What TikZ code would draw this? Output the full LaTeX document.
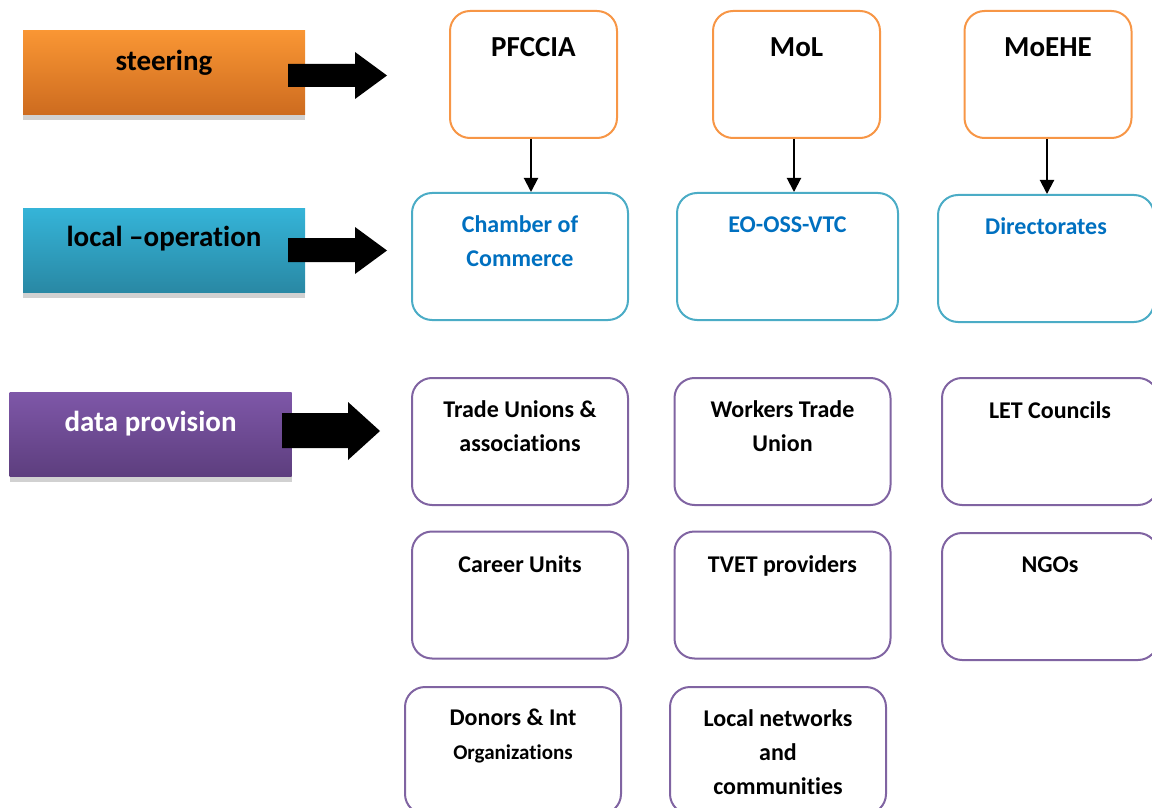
\documentclass[tikz,border=0pt]{standalone}
\usepackage{fontspec}
\setmainfont{Carlito}[Ligatures=NoCommon]
\usetikzlibrary{arrows.meta, shadows, positioning}

\definecolor{steerline}{RGB}{247,150,70}
\definecolor{localline}{RGB}{75,172,198}
\definecolor{dataline}{RGB}{128,100,162}
\definecolor{textblue}{RGB}{0,112,192}
\definecolor{steertop}{RGB}{249,150,52}
\definecolor{steerbot}{RGB}{205,107,31}
\definecolor{localtop}{RGB}{53,180,216}
\definecolor{localbot}{RGB}{41,136,164}
\definecolor{datatop}{RGB}{126,87,168}
\definecolor{databot}{RGB}{93,62,126}

\begin{document}
\begin{tikzpicture}[x=0.5pt, y=-0.5pt,
    orgbox/.style = {draw=#1, line width=1pt, rounded corners=10pt,
        minimum width=108pt, minimum height=63.5pt, inner sep=0pt},
    orgtext/.style = {anchor=north, inner sep=0pt, align=center,
        font=\bfseries\fontsize{12}{17}\selectfont},
    toptext/.style = {anchor=base, inner sep=0pt,
        font=\bfseries\fontsize{14.5}{17}\selectfont},
    levelbox/.style 2 args = {minimum width=141pt, minimum height=42pt,
        inner sep=0pt, top color=#1, bottom color=#2,
        drop shadow={shadow xshift=0pt, shadow yshift=-2.5pt,
            fill=black!18, opacity=1}},
    leveltext/.style = {anchor=base, inner sep=0pt,
        font=\bfseries\fontsize{14.5}{17}\selectfont},
    conn/.style = {line width=1pt, -{Triangle[width=7pt,length=7pt]}},
    blockarrow/.style = {fill=black}]
    \useasboundingbox (0,0) rectangle (1152,808);

    % levels on the left
    \node[levelbox={steertop}{steerbot}] (steer) at (164,73) {};
    \node[leveltext] (steerT) at ([yshift=-20pt]steer.north) {steering};
    \node[levelbox={localtop}{localbot}] (local) at (164,250.5) {};
    \node[leveltext] (localT) at ([yshift=-19pt]local.north) {local –operation};
    \node[levelbox={datatop}{databot}] (data) at (150.5,434.5) {};
    \node[leveltext, text=white] (dataT) at ([yshift=-19.5pt]data.north) {data provision};

    \fill[blockarrow] (288,64) -- (355,64) -- (355,52) -- (387,75.5) -- (355,99) -- (355,87) -- (288,87) -- cycle;
    \fill[blockarrow] (288,238) -- (355,238) -- (355,227) -- (387,250.5) -- (355,274) -- (355,262) -- (288,262) -- cycle;
    \fill[blockarrow] (282,413) -- (348,413) -- (348,402) -- (380,431) -- (348,460) -- (348,448) -- (282,448) -- cycle;

    % steering
    \node[orgbox=steerline, minimum width=83.5pt] (pfccia) at (533.5,74.5) {};
    \node[toptext] (pfcciaT) at ([yshift=-23.5pt]pfccia.north) {PFCCIA};
    \node[orgbox=steerline, minimum width=83.5pt] (mol) at (796.5,74.5) {};
    \node[toptext] (molT) at ([yshift=-23.5pt]mol.north) {MoL};
    \node[orgbox=steerline, minimum width=83.5pt] (moehe) at (1048,74.5) {};
    \node[toptext] (moeheT) at ([yshift=-23.5pt]moehe.north) {MoEHE};

    % local operation
    \node[orgbox=localline] (chamber) at (520,256.5) {};
    \node[orgtext, text=textblue] (chamberT) at ([yshift=-11.5pt]chamber.north) {Chamber of\\Commerce};
    \node[orgbox=localline, minimum width=110.5pt] (eo) at (787.5,256.5) {};
    \node[orgtext, text=textblue] (eoT) at ([yshift=-12.3pt]eo.north) {EO-OSS-VTC};
    \node[orgbox=localline] (direct) at (1046,258.5) {};
    \node[orgtext, text=textblue] (directT) at ([yshift=-11.5pt]direct.north) {Directorates};

    \draw[conn] ([xshift=-1.25pt]pfccia.south) -- ([xshift=-1.25pt]pfccia.south |- chamber.north);
    \draw[conn] ([xshift=-1.25pt]mol.south) -- ([xshift=-1.25pt]mol.south |- eo.north);
    \draw[conn] ([xshift=-0.5pt]moehe.south) -- ([xshift=-0.5pt]moehe.south |- direct.north);

    % data provision
    \node[orgbox=dataline] (trade) at (520,441.5) {};
    \node[orgtext] (tradeT) at ([yshift=-11.5pt]trade.north) {Trade Unions \&\\associations};
    \node[orgbox=dataline] (workers) at (782.5,441.5) {};
    \node[orgtext] (workersT) at ([yshift=-11.5pt]workers.north) {Workers Trade\\Union};
    \node[orgbox=dataline] (let) at (1050,441.5) {};
    \node[orgtext] (letT) at ([yshift=-12.3pt]let.north) {LET Councils};
    \node[orgbox=dataline] (career) at (520,595) {};
    \node[orgtext] (careerT) at ([yshift=-12.3pt]career.north) {Career Units};
    \node[orgbox=dataline] (tvet) at (782.5,595) {};
    \node[orgtext] (tvetT) at ([yshift=-12.3pt]tvet.north) {TVET providers};
    \node[orgbox=dataline] (ngos) at (1050,596.5) {};
    \node[orgtext] (ngosT) at ([yshift=-12.3pt]ngos.north) {NGOs};
    \node[orgbox=dataline] (donors) at (513,750.5) {};
    \node[orgtext] (donorsT) at ([yshift=-11.5pt]donors.north) {Donors \& Int\\{\fontsize{10.5}{16.5}\selectfont Organizations}};
    \node[orgbox=dataline] (networks) at (778,750.5) {};
    \node[orgtext] (networksT) at ([yshift=-11.5pt]networks.north) {Local networks\\and\\communities};
\end{tikzpicture}
\end{document}
